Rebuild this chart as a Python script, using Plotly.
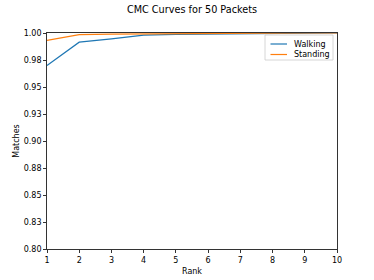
import plotly.graph_objects as go

ranks = [1, 2, 3, 4, 5, 6, 7, 8, 9, 10]
walking = [0.970, 0.9915, 0.9945, 0.998, 0.9988, 0.9990, 0.9995, 1.0, 1.0, 1.0]
standing = [0.9932, 0.9985, 0.9990, 0.9992, 0.9995, 1.0, 1.0, 1.0, 1.0, 1.0]
ytick_vals = [0.80, 0.825, 0.85, 0.875, 0.90, 0.925, 0.95, 0.975, 1.00]
ytick_text = ["0.80", "0.83", "0.85", "0.88", "0.90", "0.93", "0.95", "0.98", "1.00"]
series_names = ["Walking", "Standing"]
series_colors = ["#1f77b4", "#ff7f0e"]

W, H = 374, 280
L, R, T, B = 47, 37, 33, 31
font = "DejaVu Sans"

def px(x):
    return (x - L) / (W - L - R)

def py(y):
    return (H - B - y) / (H - T - B)

fig = go.Figure()
for name, vals, col in zip(series_names, [walking, standing], series_colors):
    fig.add_trace(go.Scatter(x=ranks, y=vals, mode="lines", name=name,
                             line=dict(color=col, width=1.2)))

axis_common = dict(showline=True, linecolor="#333333", linewidth=0.8, mirror=True,
                   showgrid=False, zeroline=False, ticks="outside", ticklen=3,
                   tickcolor="#333333", tickwidth=0.8, automargin=False,
                   tickfont=dict(family=font, size=8, color="black"))

shapes = [dict(type="rect", xref="paper", yref="paper",
               x0=px(265), x1=px(333), y0=py(35), y1=py(60),
               line=dict(color="#cccccc", width=0.8), fillcolor="rgba(255,255,255,0.8)",
               layer="above")]
annotations = []
for i, (name, col) in enumerate(zip(series_names, series_colors)):
    yy = 44 + i * 10.5
    shapes.append(dict(type="line", xref="paper", yref="paper",
                       x0=px(270.5), x1=px(287), y0=py(yy), y1=py(yy),
                       line=dict(color=col, width=1.2), layer="above"))
    annotations.append(dict(text=name, xref="paper", yref="paper", x=px(292), y=py(yy),
                            xanchor="left", yanchor="middle", showarrow=False,
                            font=dict(family=font, size=8, color="black")))

fig.update_layout(
    width=W, height=H,
    margin=dict(l=L, r=R, t=T, b=B),
    paper_bgcolor="white", plot_bgcolor="white",
    title=dict(text="CMC Curves for 50 Packets", x=(L + W - R) / 2 / W, xanchor="center",
               y=1 - 10 / H, yanchor="middle",
               font=dict(family=font, size=9.7, color="black")),
    xaxis=dict(range=[1, 10], tickvals=ranks, title=dict(text="Rank", standoff=4,
               font=dict(family=font, size=8, color="black")), **axis_common),
    yaxis=dict(range=[0.80, 1.00], tickvals=ytick_vals, ticktext=ytick_text,
               title=dict(text="Matches", standoff=2,
                          font=dict(family=font, size=8, color="black")), **axis_common),
    showlegend=False,
    shapes=shapes,
    annotations=annotations,
)
fig.write_html("out.html", config={"displayModeBar": False},
               post_script="document.body.style.margin='0';document.body.style.overflow='hidden';")
